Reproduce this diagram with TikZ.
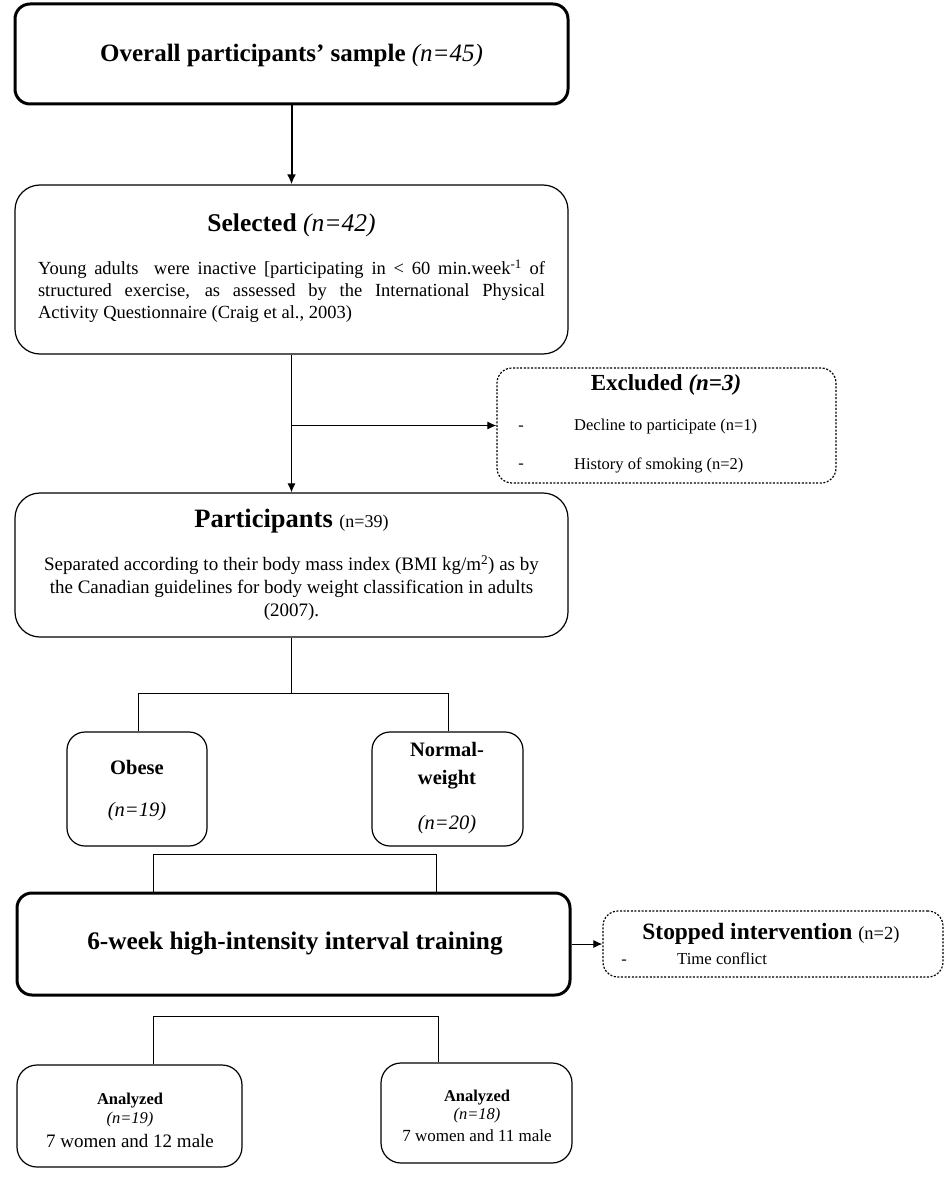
\documentclass[tikz,border=0pt]{standalone}
\usepackage{fontspec}
\setmainfont{Liberation Serif}
\usetikzlibrary{arrows.meta}
\begin{document}
\begin{tikzpicture}[x=1pt,y=-1pt,
 thickbox/.style={draw, line width=3pt, rounded corners=15pt, inner sep=0pt},
 thinbox/.style={draw, line width=1.2pt, rounded corners=20pt, inner sep=0pt},
 dashbox/.style={draw, line width=1.2pt, dash pattern=on 2pt off 1.6pt, rounded corners=15pt, inner sep=0pt},
 txt/.style={inner sep=0pt, align=center},
 link/.style={line width=1pt},
 arr/.style={line width=1pt, -{Latex[length=9pt,width=8pt]}},
 arrbold/.style={line width=2pt, -{Latex[length=10pt,width=9pt]}}
]
\useasboundingbox (0,0) rectangle (950,1177);

% top box
\node[thickbox, minimum width=553pt, minimum height=100pt] (top) at (291.5,54) {};
\node[txt, font=\fontsize{25}{28}\selectfont\bfseries] (toptxt) at (291.5,55) {Overall participants' sample \textit{\mdseries(n=45)}};

% selected
\node[thinbox, rounded corners=25pt, minimum width=553pt, minimum height=169pt] (sel) at (291.5,269.5) {};
\node[txt, font=\fontsize{25.5}{28}\selectfont\bfseries] (seltitle) at (291.5,225) {Selected \textit{\mdseries(n=42)}};
\node[inner sep=0pt, text width=507pt, align=justify, font=\fontsize{18.5}{22}\selectfont] (selbody) at (291.5,291) {Young adults\ \ were inactive [participating in < 60 min.week\textsuperscript{-1} of\linebreak structured exercise, as assessed by the International Physical\linebreak Activity Questionnaire (Craig et al., 2003)};

% excluded
\node[dashbox, minimum width=339pt, minimum height=115pt] (excl) at (666.5,425.5) {};
\node[txt, font=\fontsize{23}{26}\selectfont\bfseries] (excltitle) at (666,385) {Excluded \textit{(n=3)}};
\node[txt, font=\fontsize{16.5}{19}\selectfont] (d1) at (521,428) {-};
\node[inner sep=0pt, anchor=west, font=\fontsize{16.5}{19}\selectfont] (e1) at (574,427) {Decline to participate (n=1)};
\node[txt, font=\fontsize{16.5}{19}\selectfont] (d2) at (521,466) {-};
\node[inner sep=0pt, anchor=west, font=\fontsize{16.5}{19}\selectfont] (e2) at (574,465) {History of smoking (n=2)};

% participants
\node[thinbox, rounded corners=25pt, minimum width=553pt, minimum height=144pt] (part) at (291.5,565) {};
\node[txt, font=\fontsize{26.5}{30}\selectfont\bfseries] (parttitle) at (291.5,521) {Participants {\mdseries\fontsize{18}{20}\selectfont(n=39)}};
\node[txt, font=\fontsize{19}{23}\selectfont] (partbody) at (291.5,588) {Separated according to their body mass index (BMI kg/m\textsuperscript{2}) as by\\ the Canadian guidelines for body weight classification in adults\\ (2007).};

\draw[arrbold] (top.south) -- (sel.north);
\draw[arr] (sel.south) -- (part.north);
\coordinate (br) at (291.5,425.5);
\draw[arr] (br) -- (excl.west);

% obese / normal
\node[thinbox, rounded corners=18pt, minimum width=140pt, minimum height=114pt] (obese) at (137,789) {};
\node[txt, font=\fontsize{20.5}{24}\selectfont\bfseries] (obt) at (137,767) {Obese};
\node[txt, font=\fontsize{20.5}{24}\selectfont\itshape] (obn) at (137,812) {(n=19)};
\node[thinbox, rounded corners=18pt, minimum width=151pt, minimum height=114pt] (normal) at (447.5,789) {};
\node[txt, font=\fontsize{20.5}{28}\selectfont\bfseries] (nwt) at (447,766) {Normal-\\weight};
\node[txt, font=\fontsize{20.5}{24}\selectfont\itshape] (nwn) at (447,825) {(n=20)};

\coordinate (s1) at (291.5,693);
\coordinate (s1l) at (138,693);
\coordinate (s1r) at (448,693);
\draw[link] (part.south) -- (s1);
\draw[link] (s1l) -- (s1r);
\draw[link] (s1l) -- (s1l |- obese.north);
\draw[link] (s1r) -- (s1r |- normal.north);

% training
\node[thickbox, minimum width=553pt, minimum height=102pt] (train) at (293.5,944) {};
\node[txt, font=\fontsize{25.3}{28}\selectfont\bfseries] (traintxt) at (295,944) {6-week high-intensity interval training};

\coordinate (s2l) at (153,854);
\coordinate (s2r) at (436,854);
\draw[link] (s2l) -- (s2r);
\draw[link] (s2l) -- (s2l |- train.north);
\draw[link] (s2r) -- (s2r |- train.north);

% stopped
\node[dashbox, minimum width=340pt, minimum height=66pt] (stop) at (773,944) {};
\node[txt, font=\fontsize{23.4}{26}\selectfont\bfseries] (stoptitle) at (771,934) {Stopped intervention {\mdseries\fontsize{18.5}{20}\selectfont(n=2)}};
\node[txt, font=\fontsize{16.5}{18}\selectfont] (d3) at (624,962) {-};
\node[inner sep=0pt, anchor=west, font=\fontsize{16.7}{18}\selectfont] (tc) at (677,959) {Time conflict};
\draw[arr] (train.east) -- (stop.west);

% analyzed
\node[thinbox, minimum width=225pt, minimum height=102pt] (an1) at (129.5,1116) {};
\node[txt, font=\fontsize{16.5}{18}\selectfont\bfseries] (an1t) at (130,1101) {Analyzed};
\node[txt, font=\fontsize{16.5}{18}\selectfont\itshape] (an1n) at (130,1120) {(n=19)};
\node[txt, font=\fontsize{19}{21}\selectfont] (an1b) at (130,1141) {7 women and 12 male};
\node[thinbox, minimum width=191pt, minimum height=100pt] (an2) at (476.5,1113) {};
\node[txt, font=\fontsize{16.5}{18}\selectfont\bfseries] (an2t) at (477,1098) {Analyzed};
\node[txt, font=\fontsize{16.5}{18}\selectfont\itshape] (an2n) at (477,1116) {(n=18)};
\node[txt, font=\fontsize{17}{19}\selectfont] (an2b) at (477,1136) {7 women and 11 male};

\coordinate (s3l) at (153,1016);
\coordinate (s3r) at (438,1016);
\draw[link] (s3l) -- (s3r);
\draw[link] (s3l) -- (s3l |- an1.north);
\draw[link] (s3r) -- (s3r |- an2.north);
\end{tikzpicture}
\end{document}
